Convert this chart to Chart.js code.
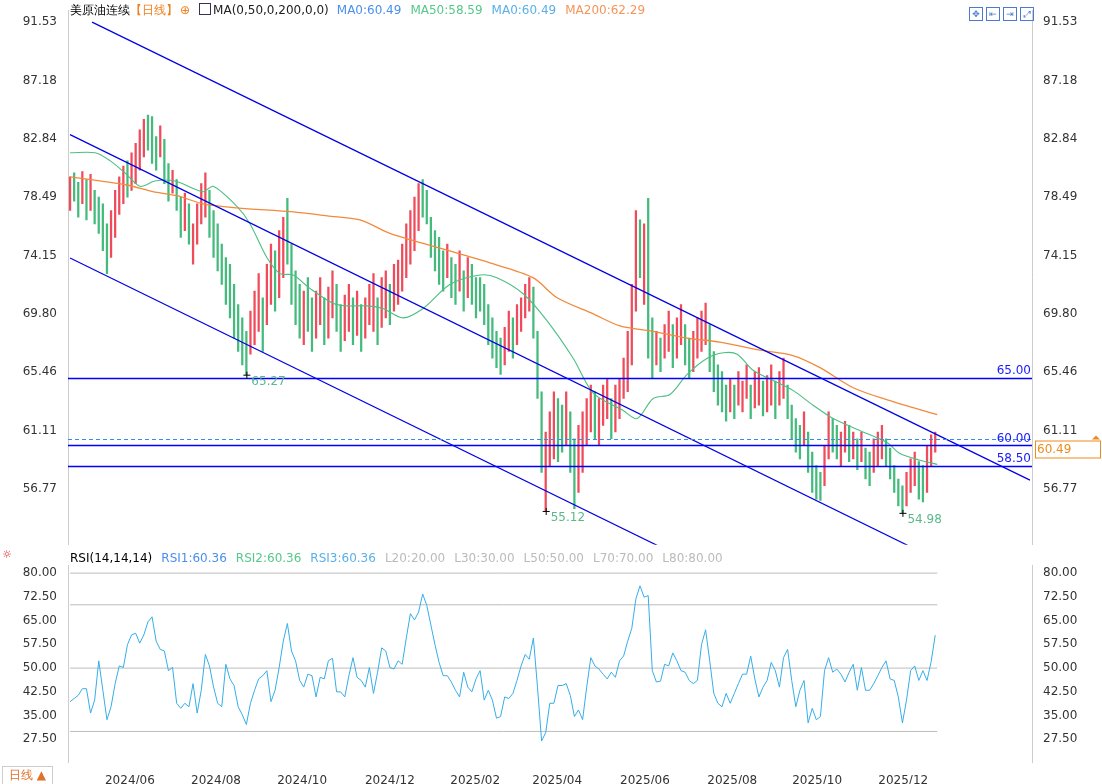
<!DOCTYPE html>
<html>
<head>
<meta charset="utf-8">
<script src="https://cdn.jsdelivr.net/npm/chart.js@4.4.0/dist/chart.umd.min.js"></script>
<style>
  html, body { margin: 0; padding: 0; background: #fff; }
  body { width: 1102px; height: 784px; position: relative; overflow: hidden; font-family: "DejaVu Sans", sans-serif; }
  #pricebox { position: absolute; left: 0; top: 0; width: 1102px; height: 555px; }
  #rsibox { position: absolute; left: 0; top: 555px; width: 1102px; height: 229px; }
  .hdr { position: absolute; font-size: 12px; white-space: nowrap; z-index: 5; }
  .hdr span { margin-right: 9px; }
  .icons { position: absolute; top: 2px; left: 969px; z-index: 5; }
  .icons b { display: inline-block; width: 12px; height: 12px; border: 1px solid #4a7bd0; margin-right: 3px; font-size: 9px; line-height: 12px; text-align: center; color: #4a7bd0; font-weight: normal; }
  #foot { position: absolute; left: 2px; top: 766px; font-size: 12px; color: #e0702a; border: 1px solid #ccc; padding: 0 6px; z-index: 5; }
</style>
</head>
<body>
<div class="hdr" style="left:70px;top:2px">
  <span style="margin-right:0">美原油连续</span><span style="color:#f07d1a;margin-right:2px">【日线】</span><span style="color:#f07d1a">⊕</span><span style="color:#222;margin-right:8px"><span style="display:inline-block;width:10px;height:10px;border:1px solid #335;margin-right:2px;vertical-align:-1px"></span>MA(0,50,0,200,0,0)</span><span style="color:#4a8ff0">MA0:60.49</span><span style="color:#55c98a">MA50:58.59</span><span style="color:#5ab0e8">MA0:60.49</span><span style="color:#f5955a">MA200:62.29</span>
</div>
<div class="icons"><b>✥</b><b>⇤</b><b>⇥</b><b>⤢</b></div>
<div class="hdr" style="left:2px;top:548px;color:#d33;font-size:11px">☼</div>
<div class="hdr" style="left:70px;top:551px">
  <span>RSI(14,14,14)</span><span style="color:#4a8ff0">RSI1:60.36</span><span style="color:#55c98a">RSI2:60.36</span><span style="color:#5ab0e8">RSI3:60.36</span><span style="color:#bbb">L20:20.00</span><span style="color:#bbb">L30:30.00</span><span style="color:#bbb">L50:50.00</span><span style="color:#bbb">L70:70.00</span><span style="color:#bbb">L80:80.00</span>
</div>
<div id="foot">日线 ▲</div>
<div id="pricebox"><canvas id="price"></canvas></div>
<div id="rsibox"><canvas id="rsi"></canvas></div>
<script>
// ---- data (one candle every 2 trading days) ----
const lows = [
  77.5,78.2,77.0,78.0,76.8,77.5,76.5,75.8,74.5,72.8,
  74.0,75.5,77.2,78.0,78.5,79.0,79.5,80.5,81.5,82.0,
  81.0,80.5,81.5,79.5,78.2,78.8,77.5,75.5,76.0,75.0,
  73.5,75.0,76.5,77.0,75.5,74.0,73.0,72.0,70.5,69.5,
  68.0,67.0,66.0,65.27,66.8,67.5,68.5,67.0,69.0,70.5,
  70.0,71.0,72.5,73.5,70.5,69.0,68.0,67.5,68.5,67.0,
  68.0,69.0,67.5,68.0,69.5,68.5,67.0,67.8,68.5,67.5,
  68.2,67.0,68.0,69.0,68.5,67.5,68.8,69.5,69.0,70.0,
  70.5,71.5,72.5,73.5,74.5,76.0,77.0,76.5,74.0,73.0,
  72.0,71.5,72.5,71.0,70.5,71.5,70.0,71.0,70.5,69.5,
  70.0,69.0,67.5,66.5,65.8,65.3,66.0,67.0,66.5,67.5,
  68.5,69.5,70.0,68.0,63.5,58.0,55.12,58.5,59.0,58.8,
  59.5,60.0,58.0,55.3,56.5,58.0,60.0,61.0,60.5,60.0,
  61.5,62.0,60.5,61.0,62.0,63.5,64.0,66.0,70.0,72.5,
  70.5,66.5,65.0,66.0,65.5,66.5,67.0,65.8,66.5,67.5,
  66.0,65.0,65.5,66.5,67.0,67.5,65.5,64.0,63.0,62.5,
  61.8,62.5,62.0,63.0,62.5,63.5,62.0,62.8,63.0,62.2,
  62.5,63.0,62.0,63.0,63.5,62.0,60.5,59.5,59.0,60.0,
  58.0,56.5,56.0,55.9,57.0,59.0,59.5,59.0,58.5,59.5,
  58.8,59.0,58.2,58.8,57.5,57.0,58.0,58.5,59.0,58.5,
  57.5,56.5,55.5,54.98,55.5,56.5,57.0,56.0,55.8,56.5,58.5,59.5
];
const highs = [
  80.0,80.3,79.6,80.4,79.8,80.2,79.0,78.5,78.0,76.5,
  77.5,79.0,80.0,80.8,81.2,81.8,82.5,83.5,84.3,84.6,
  84.5,83.0,83.8,82.8,81.0,80.5,79.8,78.5,78.8,78.0,
  76.5,78.0,79.5,80.3,79.0,77.5,76.5,75.0,74.0,73.5,
  72.0,70.5,69.5,68.5,70.0,71.5,72.8,71.0,73.5,75.0,
  74.5,76.0,77.0,78.4,75.0,73.0,72.0,71.5,72.5,71.0,
  71.5,72.5,71.0,71.8,73.0,72.0,70.5,71.2,72.0,71.0,
  71.5,70.5,71.0,72.0,72.8,71.0,72.5,73.0,72.0,73.5,
  73.8,75.0,76.5,77.5,78.5,79.5,79.8,79.0,77.0,76.0,
  75.5,74.5,75.0,74.0,73.5,74.5,73.0,74.0,73.5,72.5,
  72.5,72.0,70.5,69.5,68.5,68.0,68.8,70.0,69.5,70.5,
  71.0,72.0,72.5,71.8,68.5,64.0,61.0,62.5,64.0,63.5,
  63.0,64.0,62.5,60.5,61.5,62.5,63.5,64.5,64.0,63.5,
  64.5,65.0,63.5,64.5,65.0,66.5,68.5,72.0,77.5,76.8,
  76.5,78.4,69.5,68.5,68.0,69.0,70.0,69.0,69.5,70.5,
  69.0,68.0,68.5,69.5,70.0,70.6,69.0,67.0,66.0,65.5,
  64.5,65.0,64.5,65.5,64.8,66.0,64.5,65.5,65.8,64.8,
  65.2,66.0,64.8,65.5,66.5,64.5,63.0,62.0,61.5,62.5,
  61.0,59.5,58.5,58.0,60.0,62.5,62.0,61.5,61.0,61.8,
  61.5,61.0,60.5,61.0,59.8,59.5,60.5,61.0,61.5,60.5,
  59.8,58.5,57.5,57.0,58.0,59.0,59.5,58.8,58.5,60.0,60.8,61.0
];
// R = rising (red), G = falling (green)
const dirs =
  'RGGRGRGGGG' + 'RRRRGRRRRG' + 'GGRGGRGGRG' + 'RRRRGGGGGG' + 'GGGGRRRGRR' +
  'GRRGGGGRGG' + 'RRGRRGGRRG' + 'RGRRRGRRGR' + 'RRRRRRGGGG' + 'GGRGGRGRGG' +
  'GGGGGGRRGR' + 'RRRGGGRRRG' + 'GRGGRRRRGR' + 'RRGRRRRRRG' + 'RGGRGRRGRR' +
  'GGRRRRGGGG' + 'GRGRRRGRRG' + 'RRGRRGGGGR' + 'GGGGRRGGRR' + 'GRGRGGRRRG' +
  'GGGGRRRGGRRR';

// moving averages: [candle position, value]
const ma50Pts = [
  [0,81.8],[6.1,81.8],[9.8,81.2],[13.4,80.3],[17.1,79.3],[20.7,79.7],[25.6,79.7],[32.4,78.9],
  [34.9,79.3],[40.7,77.8],[43.9,76.5],[48.0,74.0],[51.2,72.8],[54.4,72.7],[58.5,71.7],[64.1,70.6],
  [67.6,70.4],[72.4,70.4],[76.3,70.2],[81.2,69.5],[86.1,70.2],[92.7,72.0],[100.0,72.7],[104.1,72.5],
  [110.5,71.3],[116.3,69.3],[122.7,66.5],[127.6,63.9],[134.9,62.6],[138.3,62.0],[142.2,63.5],
  [146.3,63.8],[150.5,65.3],[155.4,66.5],[159.3,66.9],[162.7,66.8],[166.6,65.6],[172.4,64.7],
  [176.3,64.1],[181.2,63.0],[186.1,62.0],[192.7,61.1],[199.3,60.2],[202.4,59.4],[207.3,58.9],[211.5,58.59]
];
const ma200Pts = [
  [0,80.0],[7.3,79.7],[13.9,79.4],[20.2,78.9],[26.1,78.6],[32.4,78.0],[40.7,77.7],[54.4,77.4],
  [62.7,77.1],[70.7,76.8],[78.0,75.8],[90.2,74.7],[102.4,73.6],[112.9,72.5],[118.8,71.0],
  [127.6,69.8],[134.1,68.9],[142.2,68.5],[150.5,68.0],[158.5,67.7],[168.3,67.1],[176.3,66.7],
  [182.9,65.8],[191.0,64.3],[199.3,63.4],[211.5,62.29]
];

const rsiVals = [
  39.4,40.4,41.4,43.5,43.5,35.8,39.9,52.3,43.0,33.7,
  37.8,45.1,50.7,50.2,57.4,60.5,61.0,57.9,60.5,64.6,
  66.2,58.5,55.9,55.4,49.2,50.2,38.9,37.3,38.9,37.8,
  45.1,35.8,43.0,54.3,50.7,44.0,38.9,37.8,51.2,46.6,
  44.5,37.8,35.3,32.2,38.9,43.0,46.6,47.6,49.2,39.4,
  43.0,50.2,58.5,64.1,55.4,52.3,46.1,44.0,48.1,47.6,
  40.9,47.1,46.6,52.3,53.1,42.5,42.5,40.9,47.6,53.3,
  47.1,46.1,44.0,50.2,42.0,48.7,56.4,55.4,50.2,49.7,
  52.3,51.2,59.5,67.2,65.2,67.7,73.4,69.8,63.6,57.4,
  51.8,47.6,47.6,45.6,43.0,40.9,48.7,44.0,42.5,46.6,
  49.2,39.9,43.0,39.9,34.2,34.7,40.9,40.4,42.0,46.1,
  50.7,54.3,52.8,59.5,44.0,27.0,29.6,38.9,38.9,44.5,
  44.5,45.1,41.4,34.7,36.8,33.7,44.0,53.3,50.7,49.7,
  48.1,46.6,48.7,47.1,52.3,53.8,58.5,62.6,71.9,76.0,
  72.4,72.9,49.2,45.6,45.9,51.2,50.7,54.8,52.3,49.2,
  48.7,46.1,45.1,46.1,57.4,62.1,52.3,42.0,38.9,37.8,
  42.0,38.9,42.0,45.1,48.1,48.1,53.8,46.6,40.9,44.0,
  46.1,51.8,49.2,44.0,53.3,55.9,46.1,37.8,43.0,46.1,
  32.7,37.3,33.7,34.7,49.2,53.3,48.7,49.7,48.1,45.6,
  48.7,51.2,43.0,50.2,43.0,43.0,45.1,47.6,50.2,52.3,
  46.6,46.1,40.9,32.7,39.9,49.2,50.7,46.1,49.2,46.1,52.0,60.4
];

// channel lines [[x0,y0],[x1,y1]] in candle/price units
const channels = [
  [[5.37,91.53],[234.1,57.42]],
  [[0,83.15],[205.0,52.45]],
  [[0,73.96],[143.9,52.45]]
];
const levels = [65.00, 60.00, 58.50];
const levelNames = ['65.00', '60.00', '58.50'];
const lastPrice = 60.49;
const lowMarks = [[43,65.27,'65.27'],[116,55.12,'55.12'],[203,54.98,'54.98']];

const priceTicks = [91.53, 87.18, 82.84, 78.49, 74.15, 69.80, 65.46, 61.11, 56.77];
const rsiTicks = [80, 72.5, 65, 57.5, 50, 42.5, 35, 27.5];
const rsiLines = [80, 70, 50, 30];
const monthPos = [14.6, 35.6, 56.6, 78.0, 98.8, 118.8, 140.2, 161.5, 182.2, 203.2];
const monthLabels = ['2024/06','2024/08','2024/10','2024/12','2025/02','2025/04','2025/06','2025/08','2025/10','2025/12'];

// ---- helpers ----
const X_MIN = -0.5, X_MAX = 234.6;
const RED = '#ef4b5b', GREEN = '#44bb7c';
const tickFont = { family: 'DejaVu Sans', size: 12 };

function sideAxis(pos, min, max, ticks, fmt, width){
  return {
    position: pos, min: min, max: max,
    grid: { display: false },
    border: { display: true, color: '#ccc', dash: [1, 2] },
    ticks: { color: '#333', font: tickFont, padding: 3, callback: v => fmt(v) },
    afterBuildTicks: s => { s.ticks = ticks.map(v => ({ value: v })); },
    afterFit: s => { s.width = width; }
  };
}

const overlay = {
  id: 'overlay',
  afterDatasetsDraw(chart){
    const ctx = chart.ctx, xs = chart.scales.x, ys = chart.scales.y, a = chart.chartArea;
    ctx.save();
    ctx.beginPath(); ctx.rect(a.left, a.top, a.right - a.left, a.bottom - a.top); ctx.clip();
    // level lines
    ctx.strokeStyle = '#0000ff'; ctx.lineWidth = 1.5;
    levels.forEach(v => {
      const y = Math.round(ys.getPixelForValue(v)) + 0.5;
      ctx.beginPath(); ctx.moveTo(a.left, y); ctx.lineTo(a.right, y); ctx.stroke();
    });
    // current price dashed
    ctx.strokeStyle = '#2f8cf0'; ctx.lineWidth = 1; ctx.setLineDash([4, 3]);
    const yp = Math.round(ys.getPixelForValue(lastPrice)) + 0.5;
    ctx.beginPath(); ctx.moveTo(a.left, yp); ctx.lineTo(a.right, yp); ctx.stroke();
    ctx.setLineDash([]);
    // level labels
    ctx.font = '12px "DejaVu Sans"'; ctx.fillStyle = '#1a1aff'; ctx.textAlign = 'right'; ctx.textBaseline = 'bottom';
    levels.forEach((v, i) => ctx.fillText(levelNames[i], a.right - 1, ys.getPixelForValue(v) - 1));
    // low markers
    lowMarks.forEach(m => {
      const x = xs.getPixelForValue(m[0]), y = ys.getPixelForValue(m[1]);
      ctx.strokeStyle = '#000'; ctx.lineWidth = 1;
      ctx.beginPath(); ctx.moveTo(x - 3, y + 0.5); ctx.lineTo(x + 4, y + 0.5); ctx.moveTo(x + 0.5, y - 3); ctx.lineTo(x + 0.5, y + 4); ctx.stroke();
      ctx.fillStyle = '#5ab88a'; ctx.textAlign = 'left'; ctx.textBaseline = 'top';
      ctx.fillText(m[2], x + 5, y + 1);
    });
    ctx.restore();
    // price badge on right axis
    ctx.save();
    ctx.strokeStyle = '#f08a1a'; ctx.fillStyle = '#fff'; ctx.lineWidth = 1;
    ctx.fillRect(a.right + 3, yp + 1, 66, 17); ctx.strokeRect(a.right + 3.5, yp + 1.5, 65, 17);
    ctx.fillStyle = '#f08a1a'; ctx.font = '12px "DejaVu Sans"'; ctx.textAlign = 'left'; ctx.textBaseline = 'middle';
    ctx.fillText(lastPrice.toFixed(2), a.right + 5, yp + 10);
    ctx.beginPath(); ctx.moveTo(a.right + 64, yp - 4); ctx.lineTo(a.right + 60, yp); ctx.lineTo(a.right + 68, yp); ctx.closePath(); ctx.fill();
    ctx.restore();
  }
};

const candleData = lows.map((lo, k) => ({ x: k, y: [lo, highs[k]] }));
const candleColors = lows.map((_, k) => dirs[k] === 'R' ? RED : GREEN);

const priceDatasets = [
  {
    type: 'bar', data: candleData, backgroundColor: candleColors,
    barThickness: 1.6, grouped: false, order: 3, yAxisID: 'y'
  },
  {
    type: 'line', data: ma200Pts.map(p => ({ x: p[0], y: p[1] })), borderColor: '#f28a3c',
    borderWidth: 1.3, pointRadius: 0, tension: 0.3, order: 1, yAxisID: 'y'
  },
  {
    type: 'line', data: ma50Pts.map(p => ({ x: p[0], y: p[1] })), borderColor: '#4cbf82',
    borderWidth: 1.1, pointRadius: 0, tension: 0.3, order: 1, yAxisID: 'y'
  }
].concat(channels.map(c => ({
  type: 'line', data: c.map(p => ({ x: p[0], y: p[1] })), borderColor: '#0000e6',
  borderWidth: 1.2, pointRadius: 0, order: 0, yAxisID: 'y'
})));

new Chart(document.getElementById('price'), {
  type: 'bar',
  data: { datasets: priceDatasets },
  options: {
    responsive: true, maintainAspectRatio: false, animation: false,
    layout: { padding: { top: 8, bottom: 10 } },
    plugins: { legend: { display: false }, tooltip: { enabled: false } },
    scales: {
      x: { type: 'linear', min: X_MIN, max: X_MAX, offset: false, display: false },
      y: sideAxis('left', 52.6, 92.42, priceTicks, v => v.toFixed(2), 68),
      y2: sideAxis('right', 52.6, 92.42, priceTicks, v => v.toFixed(2), 70)
    }
  },
  plugins: [overlay]
});

const rsiDatasets = [
  {
    data: rsiVals.map((v, k) => ({ x: k, y: v })), borderColor: '#35aee8',
    borderWidth: 1, pointRadius: 0, tension: 0, order: 0
  }
].concat(rsiLines.map(v => ({
  data: [{ x: 0, y: v }, { x: rsiVals.length - 0.5, y: v }], borderColor: '#bdbdbd',
  borderWidth: 1, pointRadius: 0, order: 1
})));

new Chart(document.getElementById('rsi'), {
  type: 'line',
  data: { datasets: rsiDatasets },
  options: {
    responsive: true, maintainAspectRatio: false, animation: false,
    layout: { padding: { top: 7, bottom: 0 } },
    plugins: { legend: { display: false }, tooltip: { enabled: false } },
    scales: {
      x: {
        type: 'linear', min: X_MIN, max: X_MAX,
        grid: { display: false }, border: { display: false },
        ticks: { color: '#333', font: tickFont, padding: 4, maxRotation: 0, autoSkip: false,
          callback: v => { const i = monthPos.indexOf(v); return i >= 0 ? monthLabels[i] : ''; } },
        afterBuildTicks: s => { s.ticks = monthPos.map(v => ({ value: v })); },
        afterFit: s => { s.height = 22; }
      },
      y: sideAxis('left', 20.35, 82.5, rsiTicks, v => v.toFixed(2), 68),
      y2: sideAxis('right', 20.35, 82.5, rsiTicks, v => v.toFixed(2), 70)
    }
  }
});
</script>
</body>
</html>
